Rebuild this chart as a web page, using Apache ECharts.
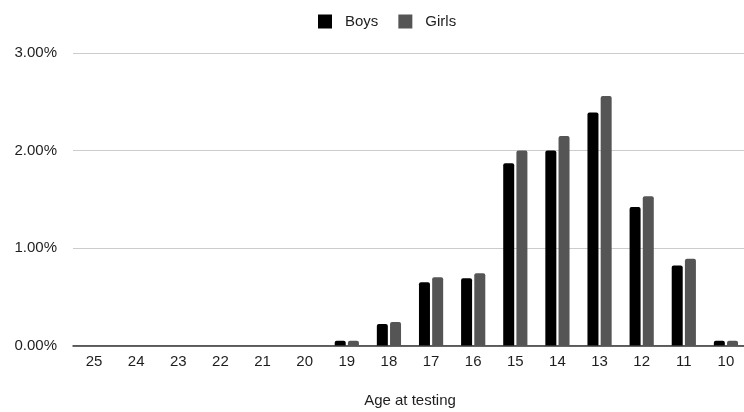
<!DOCTYPE html>
<html><head><meta charset="utf-8">
<script src="https://cdn.jsdelivr.net/npm/echarts@6/dist/echarts.min.js"></script>
<style>html,body{margin:0;padding:0;background:#fff}#c{width:744px;height:412px}</style>
</head><body><div id="c"></div>
<script>
const categories = ['25','24','23','22','21','20','19','18','17','16','15','14','13','12','11','10'];
const boys  = [0,0,0,0,0,0,0.05,0.22,0.65,0.69,1.87,2.00,2.39,1.42,0.82,0.05];
const girls = [0,0,0,0,0,0,0.05,0.24,0.70,0.74,2.00,2.15,2.56,1.53,0.89,0.05];
const yTicks = [0,1,2,3];
const FONT = 'Helvetica, "Liberation Sans", Arial, sans-serif';
const TXT = '#1e1e1e';
const chart = echarts.init(document.getElementById('c'));
chart.setOption({
  animation:false,
  backgroundColor:'#fff',
  legend:{
    top:9, left:313, itemWidth:14, itemHeight:14, itemGap:20,
    icon:'rect',
    textStyle:{fontFamily:FONT,fontSize:15,color:TXT,padding:[0,0,0,8]},
    data:['Boys','Girls']
  },
  grid:{left:73, top:53, width:674, height:292.5, containLabel:false, outerBoundsMode:'none'},
  xAxis:{
    type:'category', data:categories,
    name:'Age at testing', nameLocation:'middle', nameGap:48,
    nameTextStyle:{fontFamily:FONT,fontSize:15,color:TXT},
    axisLine:{lineStyle:{color:'#333',width:1.5}},
    axisTick:{show:false},
    axisLabel:{fontFamily:FONT,fontSize:15,color:TXT,margin:9}
  },
  yAxis:{
    type:'value', min:yTicks[0], max:yTicks[yTicks.length-1], interval:1,
    axisLine:{show:false}, axisTick:{show:false},
    axisLabel:{fontFamily:FONT,fontSize:15,color:TXT,margin:16,
      formatter:v=>v.toFixed(2)+'%'},
    splitLine:{lineStyle:{color:'#cccccc',width:1.2}}
  },
  series:[
    {name:'Boys',type:'bar',data:boys,barWidth:11,barGap:'20%',
      itemStyle:{color:'#000',borderRadius:[2,2,0,0]}},
    {name:'Girls',type:'bar',data:girls,barWidth:11,
      itemStyle:{color:'#555',borderRadius:[2,2,0,0]}}
  ]
});
</script></body></html>
